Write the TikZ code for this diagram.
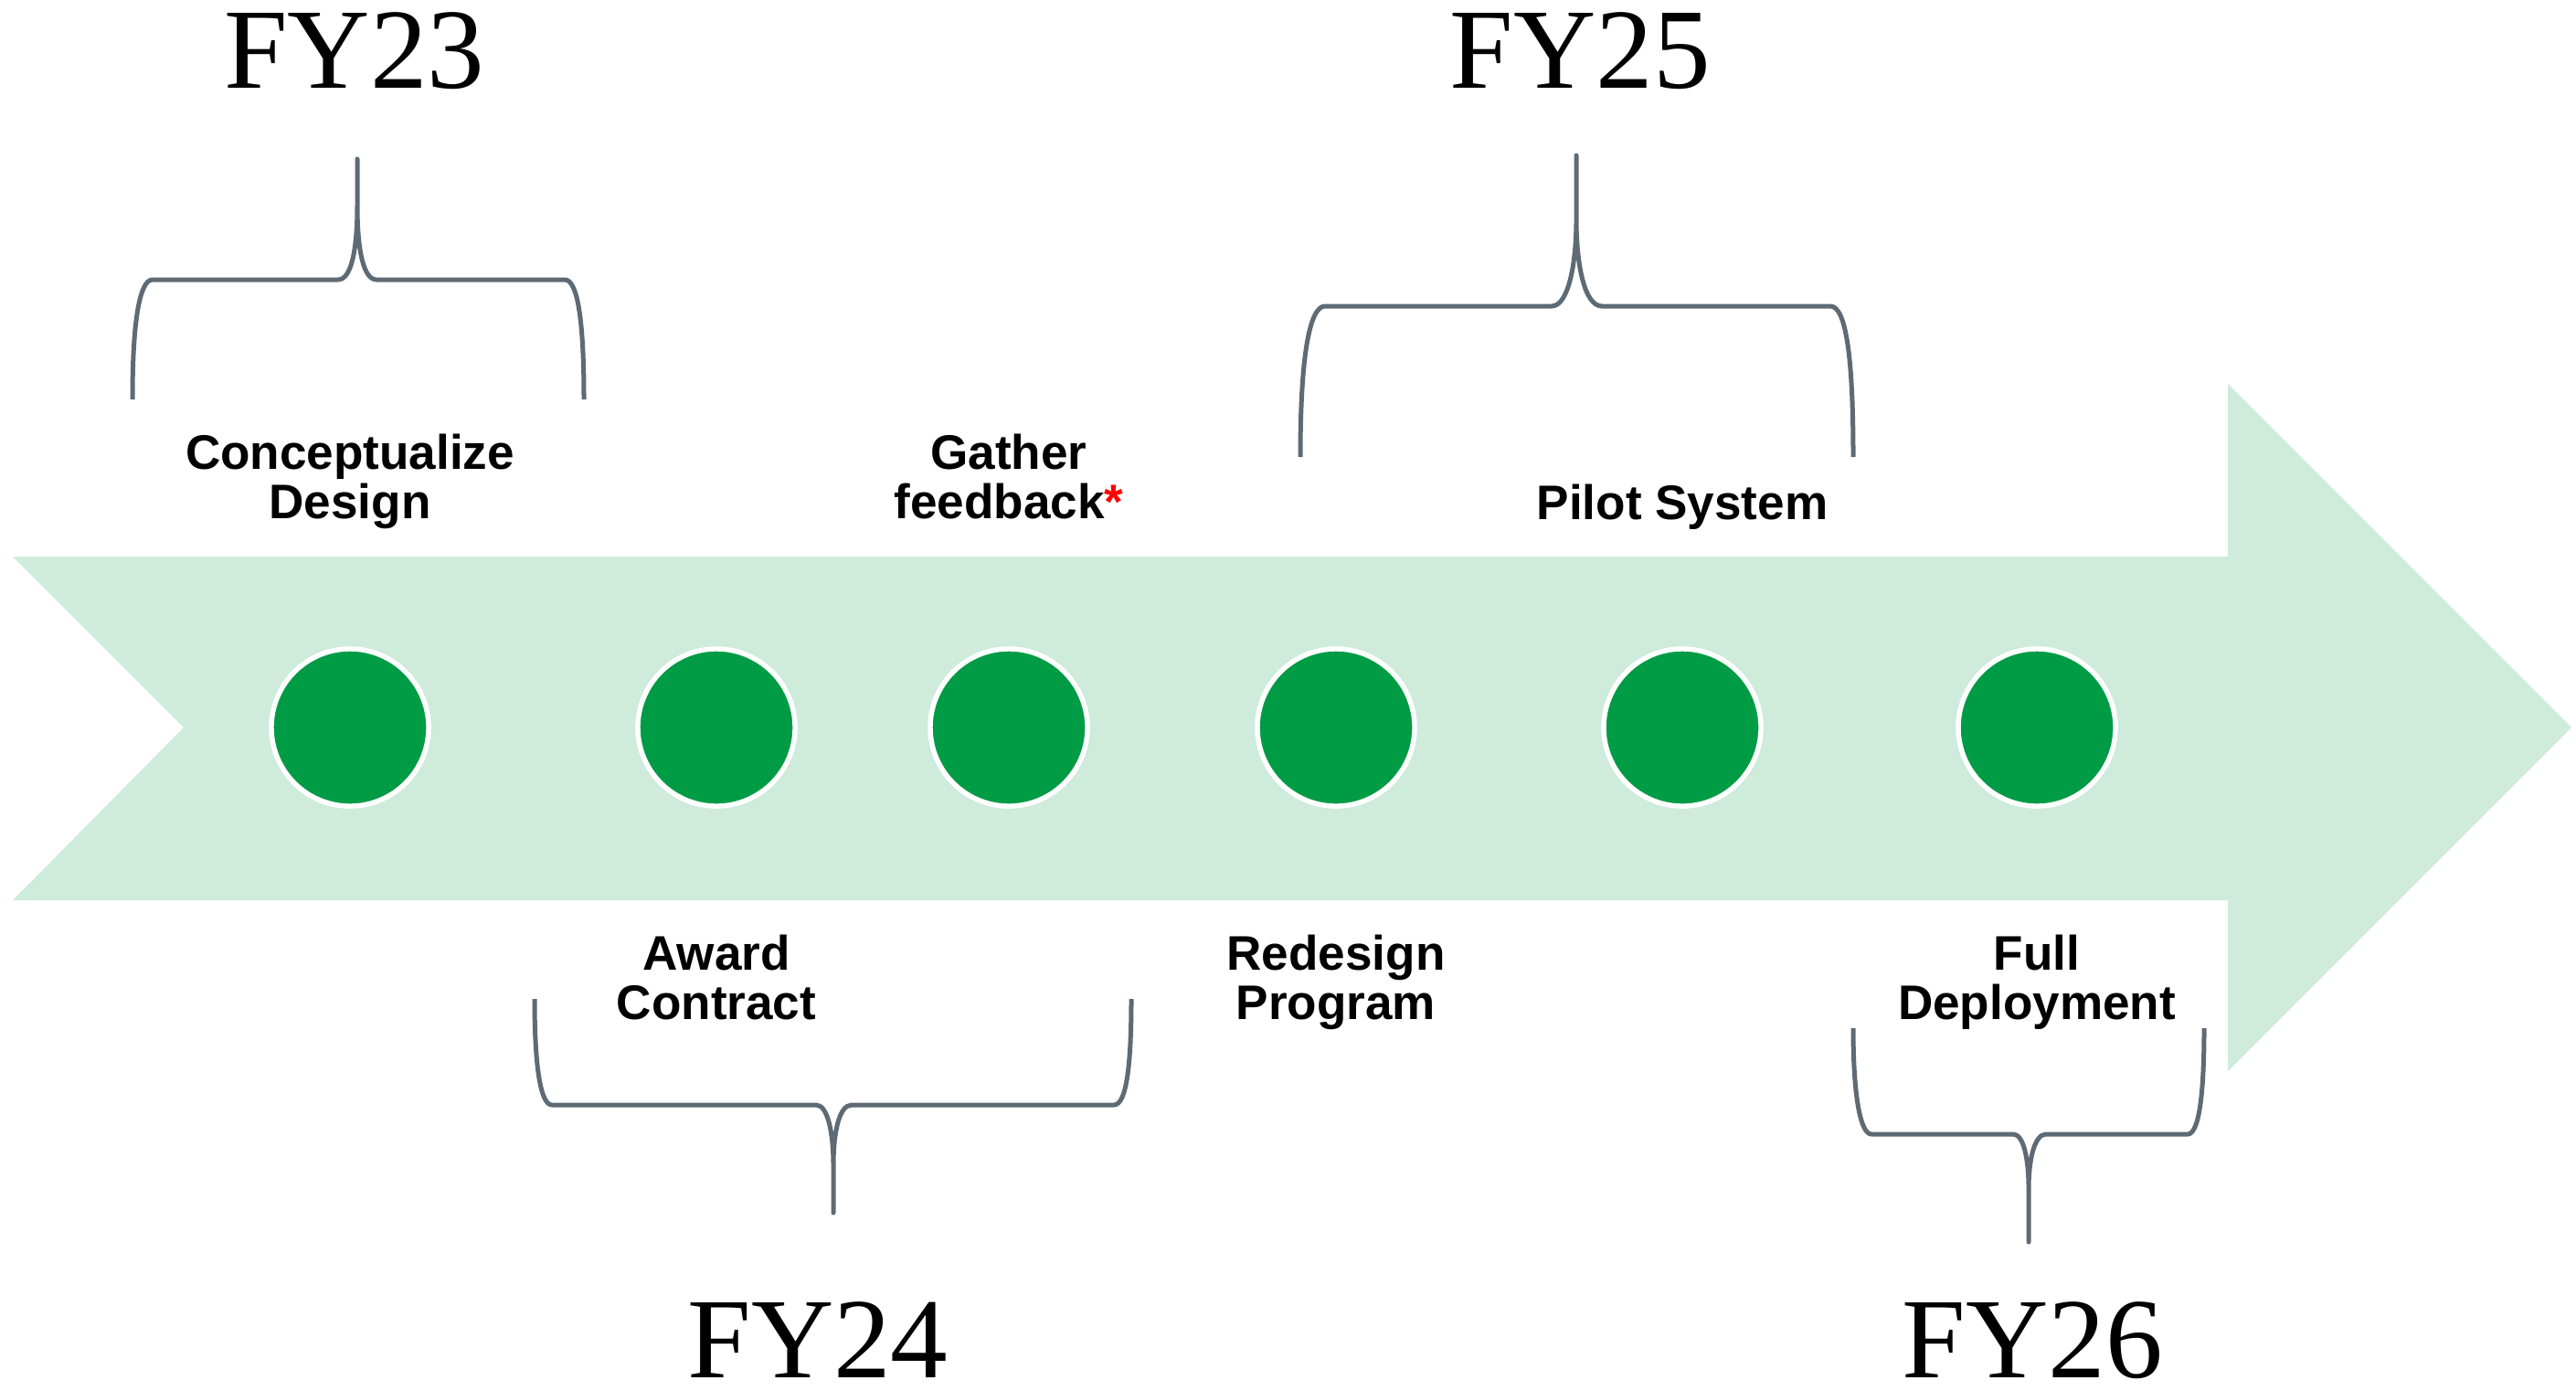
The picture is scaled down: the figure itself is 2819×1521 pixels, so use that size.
\documentclass[tikz,border=0pt]{standalone}
\usepackage{fontspec}
\setmainfont{Liberation Serif}
\newfontfamily\labfont{Liberation Sans}
\definecolor{band}{HTML}{CEEBDC}
\definecolor{dotgreen}{HTML}{009B45}
\definecolor{bracegray}{HTML}{5E6A74}
\definecolor{astred}{HTML}{FF0000}
\begin{document}
\begin{tikzpicture}[x=0.01cm,y=-0.01cm,
  dot/.style={circle,fill=dotgreen,draw=white,line width=0.055cm,minimum size=1.72cm,inner sep=0pt},
  lab/.style={anchor=base,inner sep=0pt,font=\labfont\bfseries\fontsize{15.1}{15.6}\selectfont},
  fy/.style={anchor=base,inner sep=0pt,font=\fontsize{35.6}{40}\selectfont},
  bracepath/.style={draw=bracegray,line width=0.05cm,line join=round}]
\useasboundingbox (0,0) rectangle (2819,1521);
% band arrow
\fill[band] (14,609) -- (2438,609) -- (2438,420) -- (2814,796) -- (2438,1172) -- (2438,985) -- (14,985) -- (201,796) -- cycle;
% milestones
\node[dot] (m1) at (383,796) {};
\node[dot] (m2) at (784,796) {};
\node[dot] (m3) at (1104,796) {};
\node[dot] (m4) at (1462,796) {};
\node[dot] (m5) at (1841,796) {};
\node[dot] (m6) at (2229,796) {};
% labels
\node[lab] (l1) at (383,513) {\begin{tabular}[t]{@{}c@{}}Conceptualize\\Design\end{tabular}};
\node[lab] (l3) at (1104,513) {\begin{tabular}[t]{@{}c@{}}Gather\\feedback{\color{astred}*}\end{tabular}};
\node[lab] (l5) at (1841,568) {Pilot System};
\node[lab] (l2) at (784,1061) {\begin{tabular}[t]{@{}c@{}}Award\\Contract\end{tabular}};
\node[lab] (l4) at (1462,1061) {\begin{tabular}[t]{@{}c@{}}Redesign\\Program\end{tabular}};
\node[lab] (l6) at (2229,1061) {\begin{tabular}[t]{@{}c@{}}Full\\Deployment\end{tabular}};
% fiscal years
\node[fy] (fy23) at (388,96) {FY23};
\node[fy] (fy25) at (1729,96) {FY25};
\node[fy] (fy24) at (895,1507) {FY24};
\node[fy] (fy26) at (2224,1507) {FY26};
% braces
\draw[bracepath] (145,437) .. controls (145,350) and (153,306) .. (167,306) -- (370,306)
  .. controls (384,306) and (391,275) .. (391,225) -- (391,174) -- (391,225)
  .. controls (391,275) and (398,306) .. (412,306) -- (618,306)
  .. controls (632,306) and (639,350) .. (639,437);
\draw[bracepath] (1423,500) .. controls (1423,390) and (1433,335) .. (1450,335) -- (1698,335)
  .. controls (1716,335) and (1725,290) .. (1725,240) -- (1725,170) -- (1725,240)
  .. controls (1725,290) and (1734,335) .. (1753,335) -- (2003,335)
  .. controls (2020,335) and (2028,390) .. (2028,500);
\draw[bracepath] (585,1093) .. controls (585,1170) and (592,1209) .. (604,1209) -- (893,1209)
  .. controls (906,1209) and (912,1240) .. (912,1275) -- (912,1327) -- (912,1275)
  .. controls (912,1240) and (918,1209) .. (932,1209) -- (1219,1209)
  .. controls (1232,1209) and (1238,1170) .. (1238,1093);
\draw[bracepath] (2028,1125) .. controls (2028,1200) and (2036,1241) .. (2048,1241) -- (2203,1241)
  .. controls (2215,1241) and (2220,1270) .. (2220,1300) -- (2220,1359) -- (2220,1300)
  .. controls (2220,1270) and (2226,1241) .. (2239,1241) -- (2394,1241)
  .. controls (2406,1241) and (2412,1200) .. (2412,1125);
\end{tikzpicture}
\end{document}
